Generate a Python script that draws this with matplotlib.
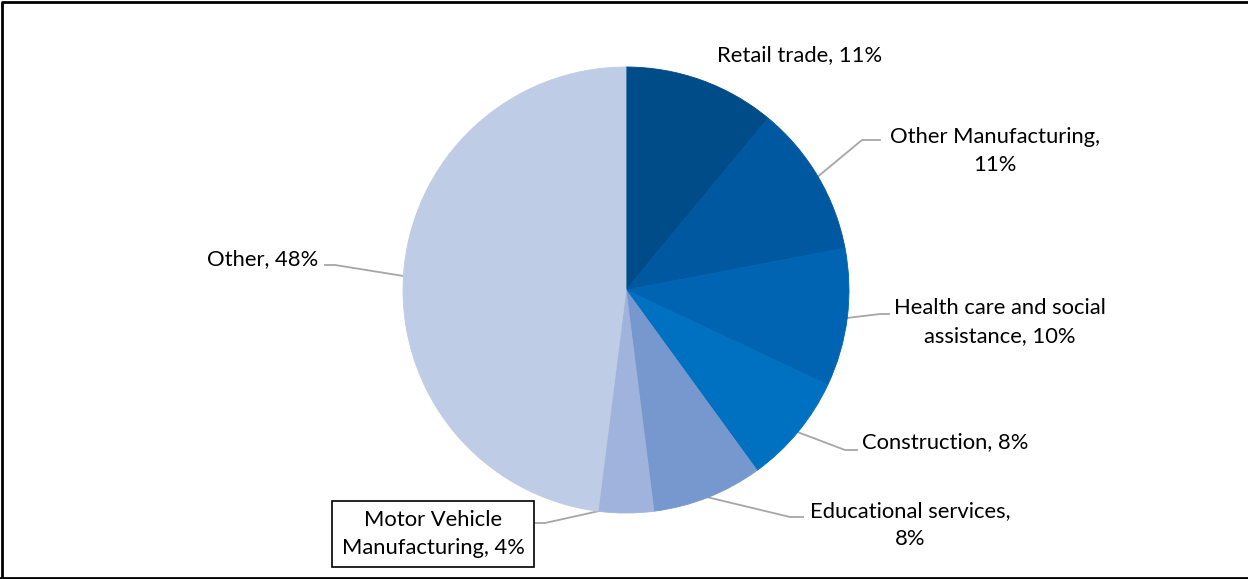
import matplotlib.pyplot as plt
import numpy as np

labels = ['Retail trade, 11%', 'Other Manufacturing,\n11%', 'Health care and social\nassistance, 10%',
          'Construction, 8%', 'Educational services,\n8%', 'Motor Vehicle\nManufacturing, 4%', 'Other, 48%']
shares = [11, 11, 10, 8, 8, 4, 48]
colors = ['#004C88', '#0058A0', '#0064B2', '#0070C0', '#7698CE', '#9FB3DD', '#BFCCE6']

W, H = 1248, 579
fig = plt.figure(figsize=(W / 100, H / 100), dpi=100)
ax = fig.add_axes([0, 0, 1, 1])

cx, cy, r = 626, H - 290, 223
wedges, _ = ax.pie(shares, colors=colors, startangle=90, counterclock=False,
                   center=(cx, cy), radius=r, frame=True,
                   wedgeprops=dict(linewidth=0.6))
for w in wedges:
    w.set_edgecolor(w.get_facecolor())
ax.set_xlim(0, W)
ax.set_ylim(0, H)
ax.axis('off')

# label text centre, elbow, end of leader (pixels from top-left); anchor fraction along wedge
label_pos = [(800, 55), (995, 151), (1000, 322), (945, 442), (910, 525), (433, 534), (263, 259)]
elbows = [None, (862, 140), (880, 314), (845, 450), (790, 517), (545, 523), (335, 265)]
ends = [None, (880, 140), (889, 314), (857, 450), (803, 517), (535, 523), (325, 265)]
anchor = [0.5, 0.5, 0.5, 0.5, 0.5, 0.0, 0.5]

font = dict(family='Lato', fontsize=15.8, color='black')
for i, w in enumerate(wedges):
    tx, ty = label_pos[i]
    box = None
    if i == 5:
        box = dict(boxstyle='square,pad=0.42', facecolor='white', edgecolor='black', linewidth=1.2)
    ax.text(tx, H - ty, labels[i], ha='center', va='center', linespacing=1.5, bbox=box, **font)
    if elbows[i] is None:
        continue
    ang = np.deg2rad(w.theta1 + anchor[i] * (w.theta2 - w.theta1))
    x0, y0 = cx + r * np.cos(ang), cy + r * np.sin(ang)
    ex, ey = elbows[i]
    fx, fy = ends[i]
    ax.plot([x0, ex, fx], [y0, H - ey, H - fy], color='#A6A6A6', linewidth=1.3, zorder=0.5)

# chart border (left, top, bottom)
ax.plot([1.5, 1.5, W], [1.5, H - 2, H - 2], color='black', linewidth=2, clip_on=False)
ax.plot([0, W], [1.5, 1.5], color='black', linewidth=2, clip_on=False)

fig.savefig('out.png', dpi=100)
